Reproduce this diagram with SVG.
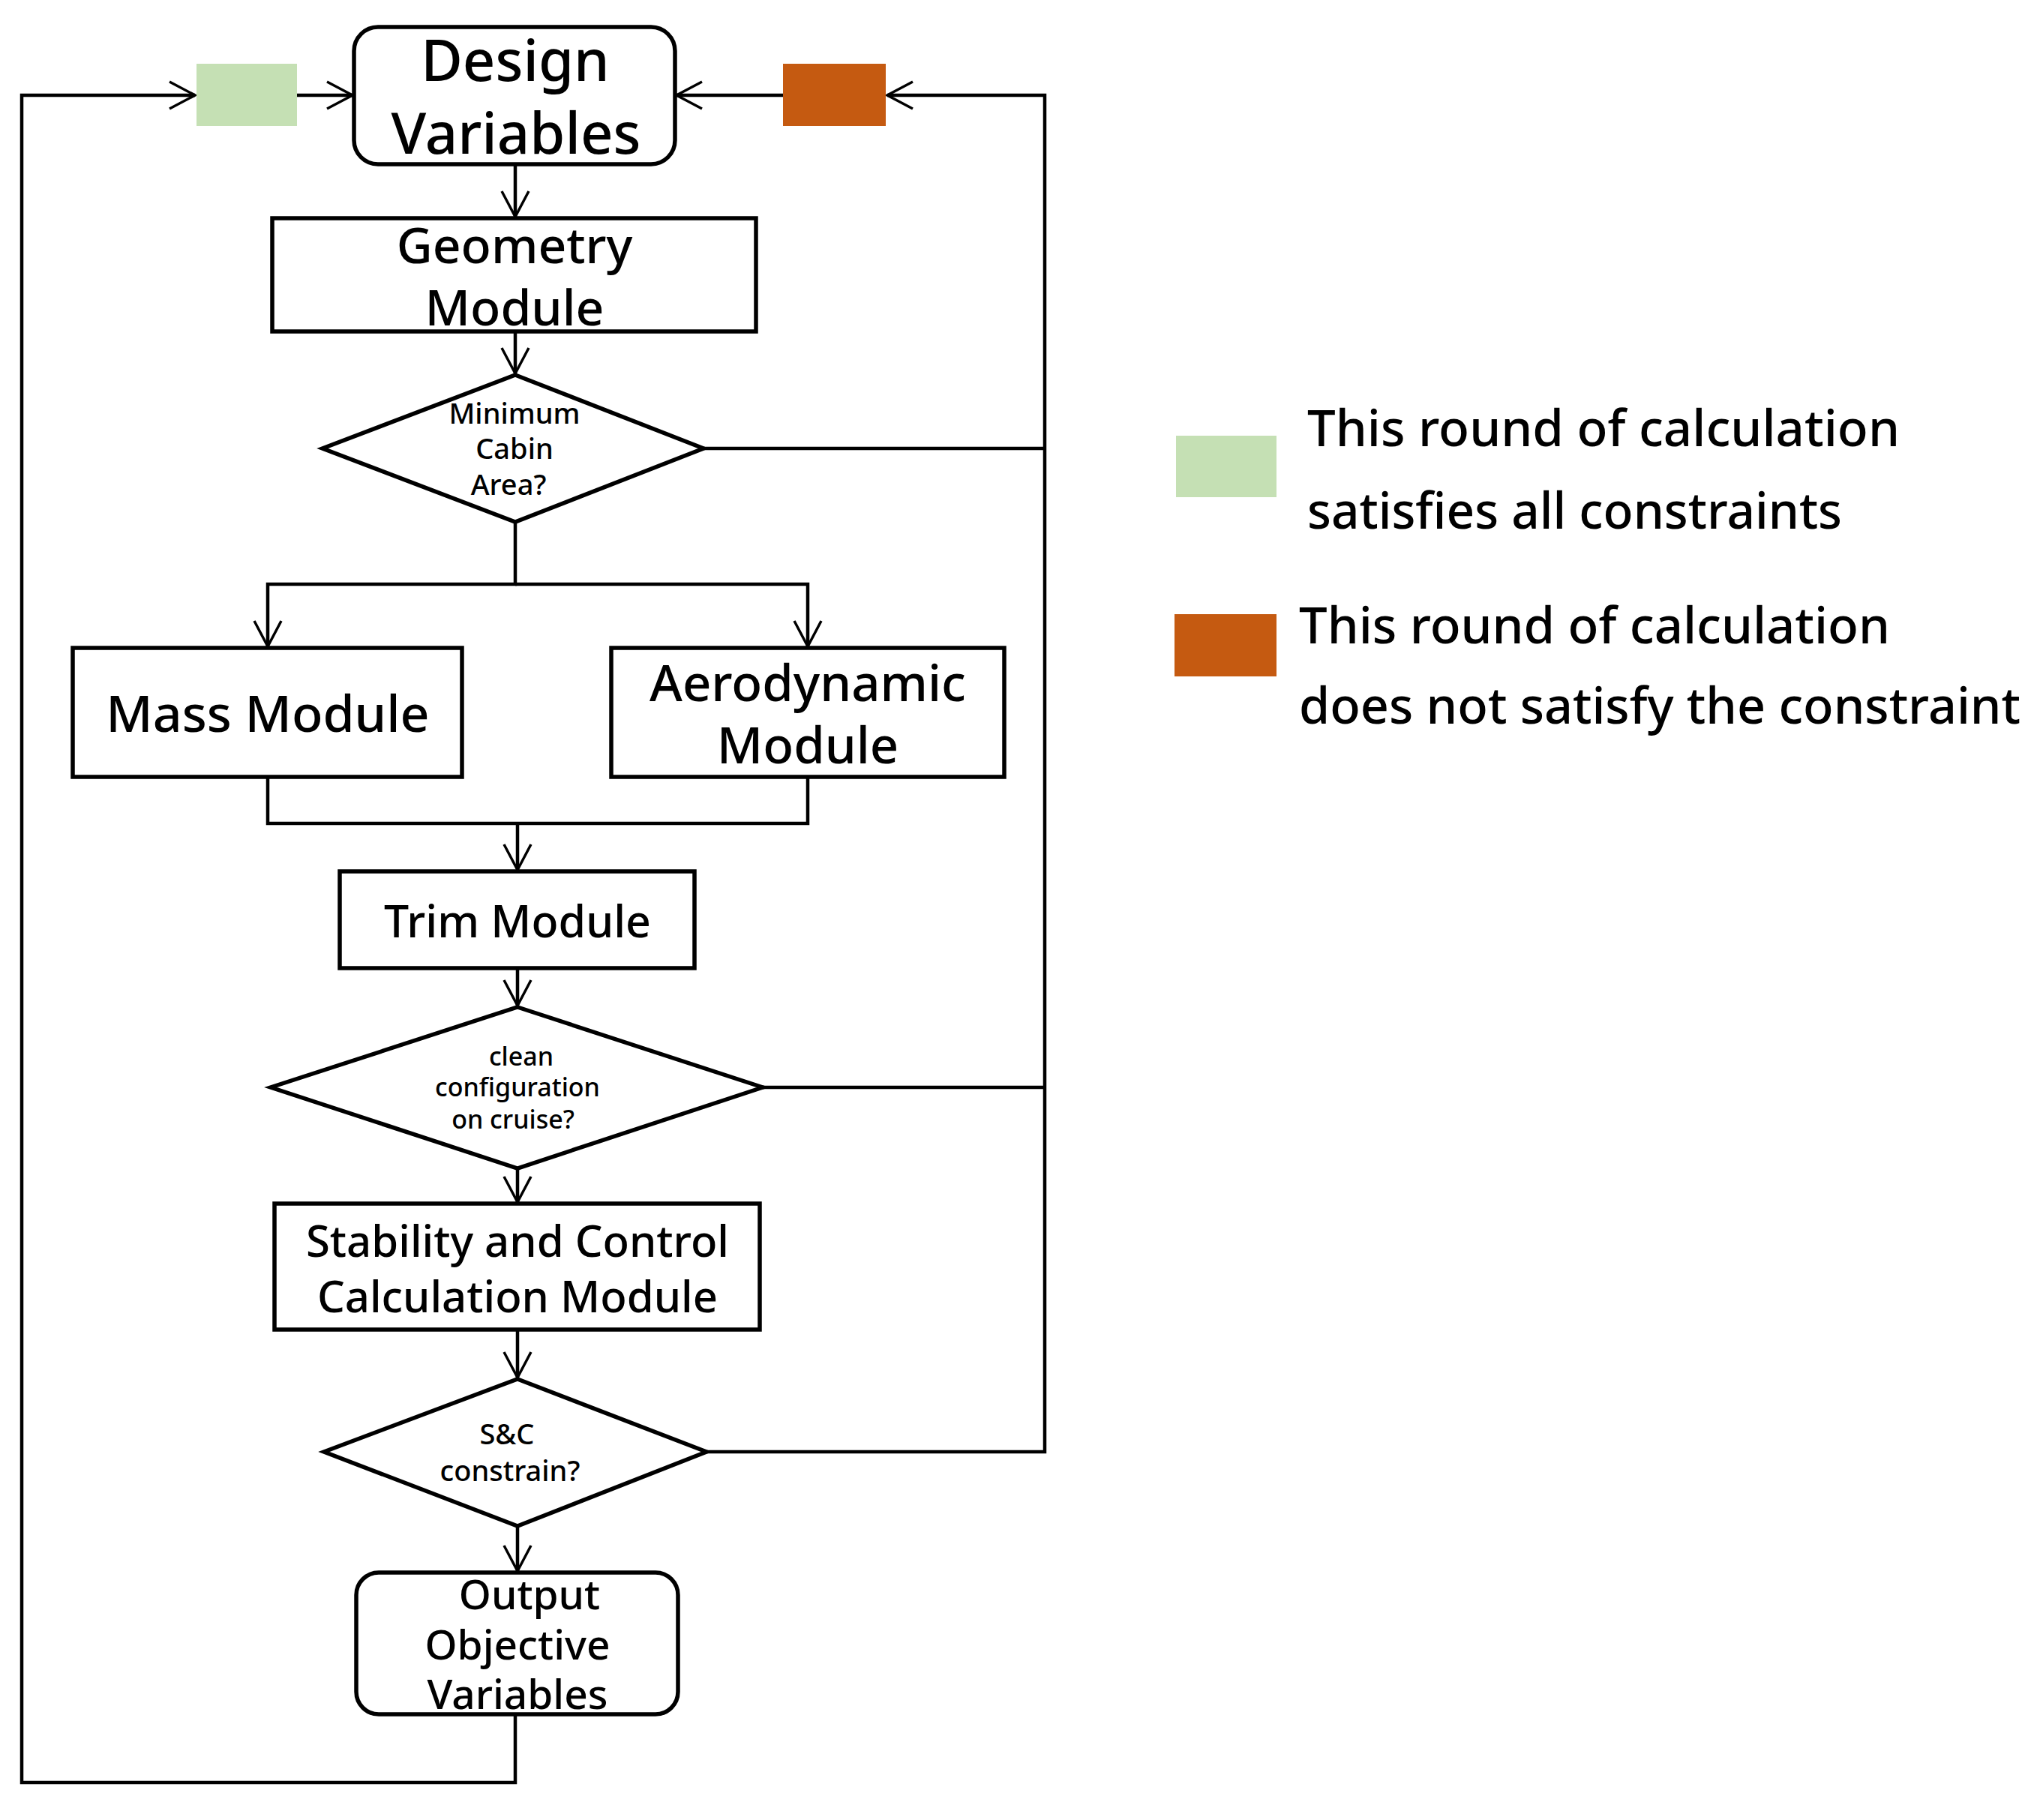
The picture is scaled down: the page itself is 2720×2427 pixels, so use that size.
<svg xmlns="http://www.w3.org/2000/svg" width="2720" height="2427" viewBox="0 0 2720 2427">
<defs>
<style>
.box{fill:#fff;stroke:#000;stroke-width:5.5}
.ln{fill:none;stroke:#000;stroke-width:4.5}
.t{font-family:"Noto Sans","Open Sans","Liberation Sans",sans-serif;fill:#000;text-anchor:middle;font-weight:500}
.lg{font-family:"Noto Sans","Open Sans","Liberation Sans",sans-serif;fill:#000;font-size:67px;font-weight:500}
</style>
<marker id="ah" markerWidth="40" markerHeight="40" refX="36" refY="20" orient="auto" markerUnits="userSpaceOnUse">
<path d="M2,2 L36,20 L2,38" fill="none" stroke="#000" stroke-width="3.5"/>
</marker>
</defs>
<rect width="2720" height="2427" fill="#fff"/>
<g id="connectors">
<path class="ln" d="M687,2286 V2377 H29 V127 H260" marker-end="url(#ah)"/>
<path class="ln" d="M396,127 H470" marker-end="url(#ah)"/>
<path class="ln" d="M938,598 H1393 M1017,1450 H1393 M942,1936 H1393 V127 H1183" marker-end="url(#ah)"/>
<path class="ln" d="M1044,127 H902" marker-end="url(#ah)"/>
<path class="ln" d="M687,219 V289" marker-end="url(#ah)"/>
<path class="ln" d="M687,442 V498" marker-end="url(#ah)"/>
<path class="ln" d="M687,696 V779 H357 V862" marker-end="url(#ah)"/>
<path class="ln" d="M687,779 H1077 V862" marker-end="url(#ah)"/>
<path class="ln" d="M357,1036 V1098 H1077 V1036"/>
<path class="ln" d="M690,1098 V1160" marker-end="url(#ah)"/>
<path class="ln" d="M690,1291 V1341" marker-end="url(#ah)"/>
<path class="ln" d="M690,1558 V1603" marker-end="url(#ah)"/>
<path class="ln" d="M690,1773 V1837" marker-end="url(#ah)"/>
<path class="ln" d="M690,2035 V2095" marker-end="url(#ah)"/>
</g>
<g id="green-marker"><rect x="262" y="85" width="134" height="83" fill="#C5E0B4"/></g>
<g id="orange-marker"><rect x="1044" y="85" width="137" height="83" fill="#C55A11"/></g>
<g id="design-variables">
<rect class="box" x="472" y="36" width="428" height="183" rx="32"/>
<text class="t" font-size="76"><tspan x="687" y="108">Design</tspan><tspan x="688" y="205">Variables</tspan></text>
</g>
<g id="geometry-module">
<rect class="box" x="363" y="291" width="645" height="151"/>
<text class="t" font-size="66"><tspan x="686" y="351">Geometry</tspan><tspan x="686" y="434">Module</tspan></text>
</g>
<g id="cabin-check">
<polygon class="box" points="687,500 938,598 687,696 430,598"/>
<text class="t" font-size="38"><tspan x="686" y="565">Minimum</tspan><tspan x="686" y="612">Cabin</tspan><tspan x="678" y="660">Area?</tspan></text>
</g>
<g id="mass-module">
<rect class="box" x="97" y="864" width="519" height="172"/>
<text class="t" x="357" y="976" font-size="68">Mass Module</text>
</g>
<g id="aerodynamic-module">
<rect class="box" x="815" y="864" width="524" height="172"/>
<text class="t" font-size="67"><tspan x="1077" y="935">Aerodynamic</tspan><tspan x="1077" y="1018">Module</tspan></text>
</g>
<g id="trim-module">
<rect class="box" x="453" y="1162" width="473" height="129"/>
<text class="t" x="690" y="1250" font-size="59">Trim Module</text>
</g>
<g id="cruise-check">
<polygon class="box" points="690,1343 1017,1450 690,1558 361,1450"/>
<text class="t" font-size="34"><tspan x="695" y="1421">clean</tspan><tspan x="690" y="1462">configuration</tspan><tspan x="684" y="1505">on cruise?</tspan></text>
</g>
<g id="stability-control-module">
<rect class="box" x="366" y="1605" width="647" height="168"/>
<text class="t" font-size="58"><tspan x="690" y="1676">Stability and Control</tspan><tspan x="690" y="1750">Calculation Module</tspan></text>
</g>
<g id="sc-check">
<polygon class="box" points="690,1839 942,1936 690,2035 432,1936"/>
<text class="t" font-size="38"><tspan x="676" y="1926">S&amp;C</tspan><tspan x="680" y="1975">constrain?</tspan></text>
</g>
<g id="output-objective">
<rect class="box" x="475" y="2097" width="429" height="189" rx="30"/>
<text class="t" font-size="55"><tspan x="706" y="2146">Output</tspan><tspan x="690" y="2213">Objective</tspan><tspan x="690" y="2279">Variables</tspan></text>
</g>
<g id="legend">
<rect x="1568" y="581" width="134" height="82" fill="#C5E0B4"/>
<text class="lg"><tspan x="1743" y="595" textLength="790" lengthAdjust="spacingAndGlyphs">This round of calculation</tspan><tspan x="1743" y="705" textLength="713" lengthAdjust="spacingAndGlyphs">satisfies all constraints</tspan></text>
<rect x="1566" y="819" width="136" height="83" fill="#C55A11"/>
<text class="lg"><tspan x="1732" y="858" textLength="788" lengthAdjust="spacingAndGlyphs">This round of calculation</tspan><tspan x="1732" y="965" textLength="962" lengthAdjust="spacingAndGlyphs">does not satisfy the constraint</tspan></text>
</g>
</svg>
